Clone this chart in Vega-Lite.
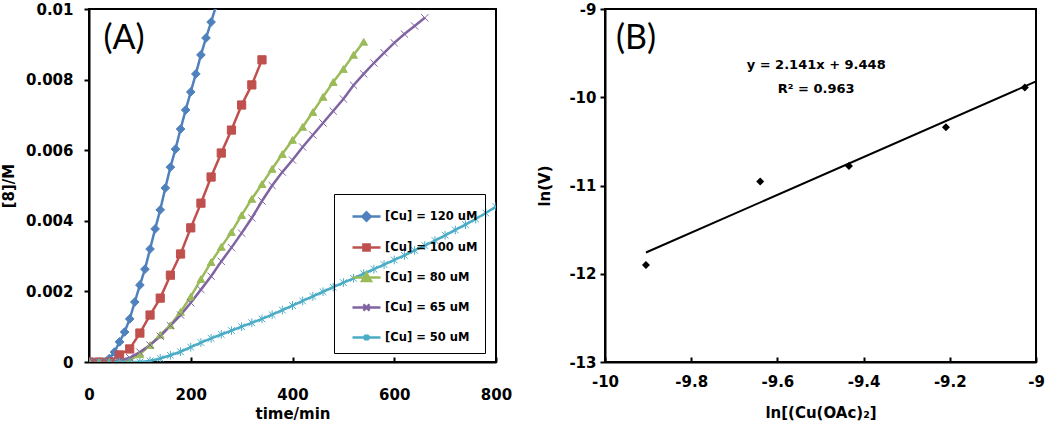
{
  "$schema": "https://vega.github.io/schema/vega-lite/v6.json",
  "background": "white",
  "padding": {"left": 0, "top": 1, "right": 2, "bottom": 0},
  "spacing": 23,
  "config": {
    "view": {"stroke": "black", "strokeWidth": 2},
    "axis": {"grid": false, "domainColor": "black", "domainWidth": 2, "tickColor": "black", "tickWidth": 2, "tickSize": 5, "labelFlush": false, "labelOverlap": false,
      "labelFont": "DejaVu Sans", "labelFontWeight": "bold", "labelFontSize": 15, "labelColor": "black",
      "titleFont": "DejaVu Sans", "titleFontWeight": "bold", "titleFontSize": 15, "titleColor": "black"}
  },
  "datasets": {
    "kin": [
      {"s": "[Cu] = 120 uM", "t": 0, "c": 0}, {"s": "[Cu] = 120 uM", "t": 10, "c": 0}, {"s": "[Cu] = 120 uM", "t": 20, "c": 0}, {"s": "[Cu] = 120 uM", "t": 30, "c": 0},
      {"s": "[Cu] = 120 uM", "t": 40, "c": 0.0001}, {"s": "[Cu] = 120 uM", "t": 50, "c": 0.00028}, {"s": "[Cu] = 120 uM", "t": 60, "c": 0.00057}, {"s": "[Cu] = 120 uM", "t": 70, "c": 0.00085},
      {"s": "[Cu] = 120 uM", "t": 80, "c": 0.00122}, {"s": "[Cu] = 120 uM", "t": 90, "c": 0.0017}, {"s": "[Cu] = 120 uM", "t": 100, "c": 0.00218}, {"s": "[Cu] = 120 uM", "t": 110, "c": 0.00263},
      {"s": "[Cu] = 120 uM", "t": 120, "c": 0.0032}, {"s": "[Cu] = 120 uM", "t": 130, "c": 0.00377}, {"s": "[Cu] = 120 uM", "t": 140, "c": 0.00431}, {"s": "[Cu] = 120 uM", "t": 150, "c": 0.00493},
      {"s": "[Cu] = 120 uM", "t": 160, "c": 0.00552}, {"s": "[Cu] = 120 uM", "t": 170, "c": 0.00603}, {"s": "[Cu] = 120 uM", "t": 180, "c": 0.0066}, {"s": "[Cu] = 120 uM", "t": 190, "c": 0.00714},
      {"s": "[Cu] = 120 uM", "t": 200, "c": 0.00765}, {"s": "[Cu] = 120 uM", "t": 210, "c": 0.00816}, {"s": "[Cu] = 120 uM", "t": 220, "c": 0.0087}, {"s": "[Cu] = 120 uM", "t": 230, "c": 0.00918},
      {"s": "[Cu] = 120 uM", "t": 240, "c": 0.00963}, {"s": "[Cu] = 120 uM", "t": 250, "c": 0.0101},

      {"s": "[Cu] = 100 uM", "t": 0, "c": 0}, {"s": "[Cu] = 100 uM", "t": 20, "c": 0}, {"s": "[Cu] = 100 uM", "t": 40, "c": 0}, {"s": "[Cu] = 100 uM", "t": 60, "c": 0.0002},
      {"s": "[Cu] = 100 uM", "t": 80, "c": 0.00037}, {"s": "[Cu] = 100 uM", "t": 100, "c": 0.00082}, {"s": "[Cu] = 100 uM", "t": 120, "c": 0.00133}, {"s": "[Cu] = 100 uM", "t": 140, "c": 0.00181},
      {"s": "[Cu] = 100 uM", "t": 160, "c": 0.00246}, {"s": "[Cu] = 100 uM", "t": 180, "c": 0.00306}, {"s": "[Cu] = 100 uM", "t": 200, "c": 0.0038}, {"s": "[Cu] = 100 uM", "t": 220, "c": 0.0045},
      {"s": "[Cu] = 100 uM", "t": 240, "c": 0.00524}, {"s": "[Cu] = 100 uM", "t": 260, "c": 0.00592}, {"s": "[Cu] = 100 uM", "t": 280, "c": 0.00657}, {"s": "[Cu] = 100 uM", "t": 300, "c": 0.00728},
      {"s": "[Cu] = 100 uM", "t": 320, "c": 0.00785}, {"s": "[Cu] = 100 uM", "t": 340, "c": 0.00856},

      {"s": "[Cu] = 80 uM", "t": 0, "c": 0}, {"s": "[Cu] = 80 uM", "t": 20, "c": 0}, {"s": "[Cu] = 80 uM", "t": 40, "c": 0}, {"s": "[Cu] = 80 uM", "t": 60, "c": 0},
      {"s": "[Cu] = 80 uM", "t": 80, "c": 0.00005}, {"s": "[Cu] = 80 uM", "t": 100, "c": 0.00022}, {"s": "[Cu] = 80 uM", "t": 120, "c": 0.00048}, {"s": "[Cu] = 80 uM", "t": 140, "c": 0.00077},
      {"s": "[Cu] = 80 uM", "t": 160, "c": 0.00104}, {"s": "[Cu] = 80 uM", "t": 180, "c": 0.00142}, {"s": "[Cu] = 80 uM", "t": 200, "c": 0.00185}, {"s": "[Cu] = 80 uM", "t": 220, "c": 0.00235},
      {"s": "[Cu] = 80 uM", "t": 240, "c": 0.00283}, {"s": "[Cu] = 80 uM", "t": 260, "c": 0.00326}, {"s": "[Cu] = 80 uM", "t": 280, "c": 0.00368}, {"s": "[Cu] = 80 uM", "t": 300, "c": 0.00416},
      {"s": "[Cu] = 80 uM", "t": 320, "c": 0.00462}, {"s": "[Cu] = 80 uM", "t": 340, "c": 0.00504}, {"s": "[Cu] = 80 uM", "t": 360, "c": 0.00547}, {"s": "[Cu] = 80 uM", "t": 380, "c": 0.00589},
      {"s": "[Cu] = 80 uM", "t": 400, "c": 0.00629}, {"s": "[Cu] = 80 uM", "t": 420, "c": 0.00666}, {"s": "[Cu] = 80 uM", "t": 440, "c": 0.00708}, {"s": "[Cu] = 80 uM", "t": 460, "c": 0.00751},
      {"s": "[Cu] = 80 uM", "t": 480, "c": 0.00793}, {"s": "[Cu] = 80 uM", "t": 500, "c": 0.0083}, {"s": "[Cu] = 80 uM", "t": 520, "c": 0.0087}, {"s": "[Cu] = 80 uM", "t": 540, "c": 0.00907},

      {"s": "[Cu] = 65 uM", "t": 0, "c": 0}, {"s": "[Cu] = 65 uM", "t": 20, "c": 0}, {"s": "[Cu] = 65 uM", "t": 40, "c": 0}, {"s": "[Cu] = 65 uM", "t": 60, "c": 0.00004},
      {"s": "[Cu] = 65 uM", "t": 80, "c": 0.00012}, {"s": "[Cu] = 65 uM", "t": 100, "c": 0.00028}, {"s": "[Cu] = 65 uM", "t": 120, "c": 0.00048}, {"s": "[Cu] = 65 uM", "t": 140, "c": 0.00073},
      {"s": "[Cu] = 65 uM", "t": 160, "c": 0.00103}, {"s": "[Cu] = 65 uM", "t": 180, "c": 0.00133}, {"s": "[Cu] = 65 uM", "t": 200, "c": 0.00168}, {"s": "[Cu] = 65 uM", "t": 220, "c": 0.00205},
      {"s": "[Cu] = 65 uM", "t": 240, "c": 0.00243}, {"s": "[Cu] = 65 uM", "t": 260, "c": 0.00285}, {"s": "[Cu] = 65 uM", "t": 280, "c": 0.00324}, {"s": "[Cu] = 65 uM", "t": 300, "c": 0.00365},
      {"s": "[Cu] = 65 uM", "t": 320, "c": 0.00408}, {"s": "[Cu] = 65 uM", "t": 340, "c": 0.00456}, {"s": "[Cu] = 65 uM", "t": 360, "c": 0.005}, {"s": "[Cu] = 65 uM", "t": 380, "c": 0.00538},
      {"s": "[Cu] = 65 uM", "t": 400, "c": 0.00572}, {"s": "[Cu] = 65 uM", "t": 420, "c": 0.00609}, {"s": "[Cu] = 65 uM", "t": 440, "c": 0.00643}, {"s": "[Cu] = 65 uM", "t": 460, "c": 0.00677},
      {"s": "[Cu] = 65 uM", "t": 480, "c": 0.00711}, {"s": "[Cu] = 65 uM", "t": 500, "c": 0.00745}, {"s": "[Cu] = 65 uM", "t": 520, "c": 0.00784}, {"s": "[Cu] = 65 uM", "t": 540, "c": 0.00816},
      {"s": "[Cu] = 65 uM", "t": 560, "c": 0.00847}, {"s": "[Cu] = 65 uM", "t": 580, "c": 0.00876}, {"s": "[Cu] = 65 uM", "t": 600, "c": 0.00904}, {"s": "[Cu] = 65 uM", "t": 620, "c": 0.00929},
      {"s": "[Cu] = 65 uM", "t": 640, "c": 0.00952}, {"s": "[Cu] = 65 uM", "t": 660, "c": 0.00975},

      {"s": "[Cu] = 50 uM", "t": 0, "c": 0}, {"s": "[Cu] = 50 uM", "t": 20, "c": 0}, {"s": "[Cu] = 50 uM", "t": 40, "c": 0}, {"s": "[Cu] = 50 uM", "t": 60, "c": 0},
      {"s": "[Cu] = 50 uM", "t": 80, "c": 0}, {"s": "[Cu] = 50 uM", "t": 100, "c": 0}, {"s": "[Cu] = 50 uM", "t": 120, "c": 0.00003}, {"s": "[Cu] = 50 uM", "t": 140, "c": 0.0001},
      {"s": "[Cu] = 50 uM", "t": 160, "c": 0.00019}, {"s": "[Cu] = 50 uM", "t": 180, "c": 0.00029}, {"s": "[Cu] = 50 uM", "t": 200, "c": 0.00042}, {"s": "[Cu] = 50 uM", "t": 220, "c": 0.00055},
      {"s": "[Cu] = 50 uM", "t": 240, "c": 0.00067}, {"s": "[Cu] = 50 uM", "t": 260, "c": 0.00078}, {"s": "[Cu] = 50 uM", "t": 280, "c": 0.00089}, {"s": "[Cu] = 50 uM", "t": 300, "c": 0.001},
      {"s": "[Cu] = 50 uM", "t": 320, "c": 0.00111}, {"s": "[Cu] = 50 uM", "t": 340, "c": 0.00122}, {"s": "[Cu] = 50 uM", "t": 360, "c": 0.00134}, {"s": "[Cu] = 50 uM", "t": 380, "c": 0.00147},
      {"s": "[Cu] = 50 uM", "t": 400, "c": 0.0016}, {"s": "[Cu] = 50 uM", "t": 420, "c": 0.00173}, {"s": "[Cu] = 50 uM", "t": 440, "c": 0.00186}, {"s": "[Cu] = 50 uM", "t": 460, "c": 0.00199},
      {"s": "[Cu] = 50 uM", "t": 480, "c": 0.00212}, {"s": "[Cu] = 50 uM", "t": 500, "c": 0.00225}, {"s": "[Cu] = 50 uM", "t": 520, "c": 0.00237}, {"s": "[Cu] = 50 uM", "t": 540, "c": 0.0025},
      {"s": "[Cu] = 50 uM", "t": 560, "c": 0.00263}, {"s": "[Cu] = 50 uM", "t": 580, "c": 0.00276}, {"s": "[Cu] = 50 uM", "t": 600, "c": 0.00289}, {"s": "[Cu] = 50 uM", "t": 620, "c": 0.00302},
      {"s": "[Cu] = 50 uM", "t": 640, "c": 0.00316}, {"s": "[Cu] = 50 uM", "t": 660, "c": 0.0033}, {"s": "[Cu] = 50 uM", "t": 680, "c": 0.00344}, {"s": "[Cu] = 50 uM", "t": 700, "c": 0.00359},
      {"s": "[Cu] = 50 uM", "t": 720, "c": 0.00374}, {"s": "[Cu] = 50 uM", "t": 740, "c": 0.00389}, {"s": "[Cu] = 50 uM", "t": 760, "c": 0.00405}, {"s": "[Cu] = 50 uM", "t": 780, "c": 0.00422},
      {"s": "[Cu] = 50 uM", "t": 800, "c": 0.0044}
    ]
  },
  "hconcat": [
    {
      "width": 407,
      "height": 353,
      "layer": [
        {
          "data": {"name": "kin"},
          "mark": {"type": "line", "strokeWidth": 2.5, "clip": true},
          "encoding": {
            "x": {"field": "t", "type": "quantitative", "scale": {"domain": [0, 800], "nice": false},
              "axis": {"values": [0, 200, 400, 600, 800], "tickSize": -5, "labelPadding": 30, "title": "time/min", "titlePadding": 4}},
            "y": {"field": "c", "type": "quantitative", "scale": {"domain": [0, 0.01], "nice": false},
              "axis": {"values": [0, 0.002, 0.004, 0.006, 0.008, 0.01], "format": ".3~f", "labelPadding": 11, "title": "[8]/M", "titlePadding": 9}},
            "color": {"field": "s", "type": "nominal",
              "scale": {"domain": ["[Cu] = 120 uM", "[Cu] = 100 uM", "[Cu] = 80 uM", "[Cu] = 65 uM", "[Cu] = 50 uM"],
                "range": ["#4F81BD", "#C0504D", "#9BBB59", "#8064A2", "#4BACC6"]}, "legend": null}
          }
        },
        {
          "data": {"name": "kin"},
          "mark": {"type": "point", "filled": true, "opacity": 1, "strokeWidth": 1, "clip": true},
          "encoding": {
            "x": {"field": "t", "type": "quantitative"},
            "y": {"field": "c", "type": "quantitative"},
            "fill": {"field": "s", "type": "nominal",
              "scale": {"domain": ["[Cu] = 120 uM", "[Cu] = 100 uM", "[Cu] = 80 uM", "[Cu] = 65 uM", "[Cu] = 50 uM"],
                "range": ["#4F81BD", "#C0504D", "#9BBB59", "#8064A2", "#4BACC6"]}, "legend": null},
            "stroke": {"field": "s", "type": "nominal",
              "scale": {"domain": ["[Cu] = 120 uM", "[Cu] = 100 uM", "[Cu] = 80 uM", "[Cu] = 65 uM", "[Cu] = 50 uM"],
                "range": ["#4F81BD", "#C0504D", "#9BBB59", "#8064A2", "#4BACC6"]}, "legend": null},
            "shape": {"field": "s", "type": "nominal",
              "scale": {"domain": ["[Cu] = 120 uM", "[Cu] = 100 uM", "[Cu] = 80 uM", "[Cu] = 65 uM", "[Cu] = 50 uM"],
                "range": ["diamond", "square", "triangle-up", "M-1,-1L1,1M-1,1L1,-1", "M-1,-1L1,1M-1,1L1,-1M0,-1.3L0,1.3"]}, "legend": null},
            "size": {"field": "s", "type": "ordinal",
              "scale": {"domain": ["[Cu] = 120 uM", "[Cu] = 100 uM", "[Cu] = 80 uM", "[Cu] = 65 uM", "[Cu] = 50 uM"],
                "range": [75, 45, 75, 40, 40]}, "legend": null}
          }
        },
        {
          "data": {"name": "kin"},
          "transform": [{"filter": "datum.t < 0"}],
          "mark": {"type": "point", "filled": true, "opacity": 1, "strokeWidth": 2.5, "size": 784},
          "encoding": {
            "x": {"field": "t", "type": "quantitative"},
            "y": {"field": "c", "type": "quantitative"},
            "fill": {"field": "s", "type": "nominal",
              "scale": {"domain": ["[Cu] = 120 uM", "[Cu] = 100 uM", "[Cu] = 80 uM", "[Cu] = 65 uM", "[Cu] = 50 uM"],
                "range": ["#4F81BD", "#C0504D", "#9BBB59", "#8064A2", "#4BACC6"]},
              "legend": {"title": null, "orient": "none", "legendX": 245, "legendY": 185, "strokeColor": "black", "padding": 7, "rowPadding": 6,
                "symbolSize": 784, "symbolStrokeWidth": 2.5, "symbolOffset": 10, "labelFont": "DejaVu Sans", "labelFontSize": 11.5, "labelFontWeight": "bold", "labelColor": "black", "labelOffset": 3}},
            "stroke": {"field": "s", "type": "nominal",
              "scale": {"domain": ["[Cu] = 120 uM", "[Cu] = 100 uM", "[Cu] = 80 uM", "[Cu] = 65 uM", "[Cu] = 50 uM"],
                "range": ["#4F81BD", "#C0504D", "#9BBB59", "#8064A2", "#4BACC6"]},
              "legend": {"title": null, "orient": "none", "legendX": 245, "legendY": 185, "strokeColor": "black", "padding": 7, "rowPadding": 6,
                "symbolSize": 784, "symbolStrokeWidth": 2.5, "symbolOffset": 10, "labelFont": "DejaVu Sans", "labelFontSize": 11.5, "labelFontWeight": "bold", "labelColor": "black", "labelOffset": 3}},
            "shape": {"field": "s", "type": "nominal",
              "scale": {"domain": ["[Cu] = 120 uM", "[Cu] = 100 uM", "[Cu] = 80 uM", "[Cu] = 65 uM", "[Cu] = 50 uM"],
                "range": ["M-1,0L1,0M0,-0.3L0.3,0L0,0.3L-0.3,0Z", "M-1,0L1,0M-0.22,-0.22L0.22,-0.22L0.22,0.22L-0.22,0.22Z", "M-1,0L1,0M0,-0.32L0.32,0.25L-0.32,0.25Z", "M-1,0L1,0M-0.22,-0.22L0.22,0.22M-0.22,0.22L0.22,-0.22", "M-1,0L1,0M-0.17,-0.17L0.17,0.17M-0.17,0.17L0.17,-0.17M0,-0.22L0,0.22"]},
              "legend": {"title": null, "orient": "none", "legendX": 245, "legendY": 185, "strokeColor": "black", "padding": 7, "rowPadding": 6,
                "symbolSize": 784, "symbolStrokeWidth": 2.5, "symbolOffset": 10, "labelFont": "DejaVu Sans", "labelFontSize": 11.5, "labelFontWeight": "bold", "labelColor": "black", "labelOffset": 3}}
          }
        },
        {
          "data": {"values": [{"t": 69, "c": 0.00915, "label": "(A)"}]},
          "mark": {"type": "text", "font": "Lato", "fontSize": 34, "color": "black"},
          "encoding": {
            "x": {"field": "t", "type": "quantitative"},
            "y": {"field": "c", "type": "quantitative"},
            "text": {"field": "label"}
          }
        }
      ],
      "resolve": {"scale": {"color": "independent", "fill": "independent", "stroke": "independent", "shape": "independent", "size": "independent"}}
    },
    {
      "width": 431,
      "height": 353,
      "layer": [
        {
          "data": {"values": [{"x": -9.905, "y": -11.759}, {"x": -9.0, "y": -9.821}]},
          "mark": {"type": "line", "color": "black", "strokeWidth": 2},
          "encoding": {
            "x": {"field": "x", "type": "quantitative", "scale": {"domain": [-10, -9], "nice": false},
              "axis": {"values": [-10, -9.8, -9.6, -9.4, -9.2, -9], "format": ".1~f", "labelExpr": "replace(datum.label, '\u2212', '-')", "tickSize": -5, "labelPadding": 17, "title": "ln[(Cu(OAc)\u2082]", "titlePadding": 16}},
            "y": {"field": "y", "type": "quantitative", "scale": {"domain": [-13, -9], "nice": false},
              "axis": {"values": [-13, -12, -11, -10, -9], "format": "d", "labelExpr": "replace(datum.label, '\u2212', '-')", "labelPadding": 4, "title": "ln(V)", "titlePadding": 16}}
          }
        },
        {
          "data": {"values": [{"x": -9.905, "y": -11.9}, {"x": -9.64, "y": -10.955}, {"x": -9.434, "y": -10.78}, {"x": -9.209, "y": -10.34}, {"x": -9.026, "y": -9.89}]},
          "mark": {"type": "point", "shape": "diamond", "filled": true, "color": "black", "size": 64, "opacity": 1},
          "encoding": {
            "x": {"field": "x", "type": "quantitative"},
            "y": {"field": "y", "type": "quantitative"}
          }
        },
        {
          "data": {"values": [{"x": -9.51, "y": -9.633, "label": "y = 2.141x + 9.448"}, {"x": -9.51, "y": -9.904, "label": "R\u00b2 = 0.963"}]},
          "mark": {"type": "text", "font": "DejaVu Sans", "fontWeight": "bold", "fontSize": 13, "color": "black"},
          "encoding": {
            "x": {"field": "x", "type": "quantitative"},
            "y": {"field": "y", "type": "quantitative"},
            "text": {"field": "label"}
          }
        },
        {
          "data": {"values": [{"x": -9.928, "y": -9.34, "label": "(B)"}]},
          "mark": {"type": "text", "font": "Lato", "fontSize": 34, "color": "black"},
          "encoding": {
            "x": {"field": "x", "type": "quantitative"},
            "y": {"field": "y", "type": "quantitative"},
            "text": {"field": "label"}
          }
        }
      ]
    }
  ]
}
